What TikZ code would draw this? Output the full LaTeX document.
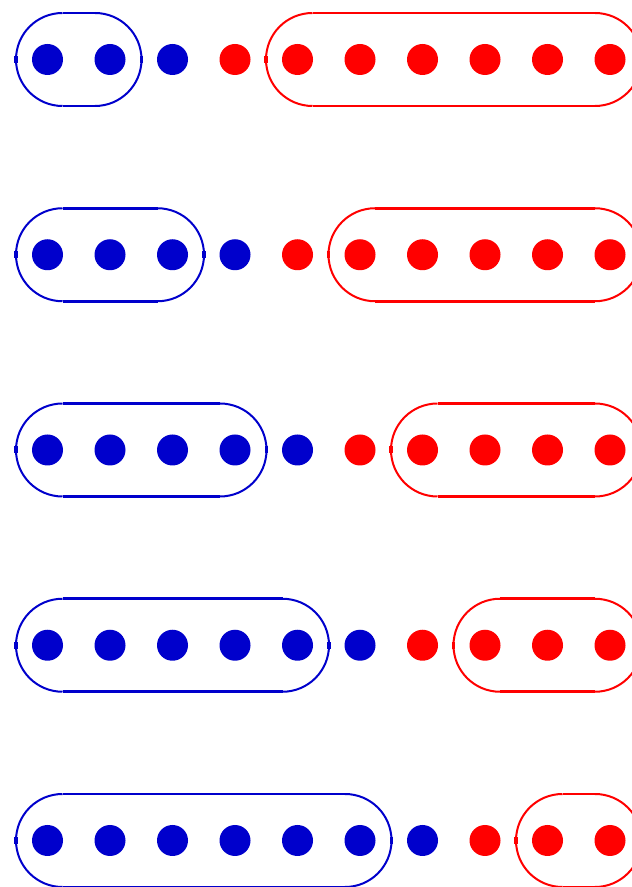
\documentclass[tikz,border=0pt]{standalone}
\definecolor{dblue}{RGB}{0,0,204}
\definecolor{dred}{RGB}{255,0,0}
\tikzset{
  dot/.style={circle,fill=#1,draw=none,inner sep=0pt,minimum size=31pt},
  arcline/.style={line width=2pt},
  straightline/.style={line width=2.8pt},
  tickline/.style={line width=3.4pt}
}
\newcommand\pillbox[4]{% colour, left, right, centre y
  \pgfmathsetmacro\pbA{#2+46.5}%
  \pgfmathsetmacro\pbB{#3-46.5}%
  \pgfmathsetmacro\pbT{#4+46.5}%
  \pgfmathsetmacro\pbD{#4-46.5}%
  \draw[#1,arcline] (\pbA,\pbT) arc[start angle=90,end angle=270,radius=46.5pt];
  \draw[#1,arcline] (\pbB,\pbD) arc[start angle=-90,end angle=90,radius=46.5pt];
  \draw[#1,straightline] (\pbA,\pbT) -- (\pbB,\pbT);
  \draw[#1,straightline] (\pbA,\pbD) -- (\pbB,\pbD);
  \draw[#1,tickline] (#2,#4-3.5) -- (#2,#4+3.5);
  \draw[#1,tickline] (#3,#4-3.5) -- (#3,#4+3.5);
}
\begin{document}
\begin{tikzpicture}[x=1pt,y=1pt]
  \clip (0,0) rectangle (632,887);
  \fill[white] (0,0) rectangle (632,887);
  \foreach \k in {0,...,4}{
    \pgfmathsetmacro\Y{827.5-195.25*\k}
    \pgfmathsetmacro\bR{47.5+62.5*(\k+1)+31.5}
    \pgfmathsetmacro\rL{47.5+62.5*(\k+4)-31.5}
    \pillbox{dblue}{16}{\bR}{\Y}
    \pillbox{dred}{\rL}{641.5}{\Y}
    \foreach \i in {0,...,9}{
      \pgfmathsetmacro\X{47.5+62.5*\i}
      \pgfmathparse{\i<=\k+2 ? 1 : 0}
      \ifnum\pgfmathresult=1
        \node[dot=dblue] (d\k-\i) at (\X,\Y) {};
      \else
        \node[dot=dred] (d\k-\i) at (\X,\Y) {};
      \fi
    }
  }
\end{tikzpicture}
\end{document}
